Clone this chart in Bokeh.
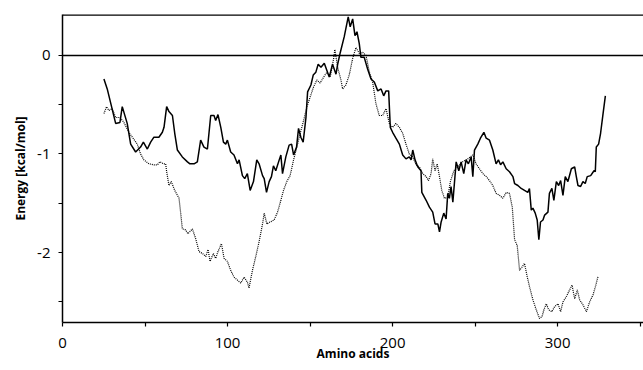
from bokeh.plotting import figure
from bokeh.models import Range1d, FixedTicker, Span
from bokeh.embed import file_html
from bokeh.resources import INLINE

# Solid profile
x_solid = [25.1, 27.1, 32.2, 34.8, 36.2, 39.2, 41.3, 44.3, 47.3, 49.0, 51.4, 53.4, 55.4, 58.4, 60.5, 61.5,
           63.1, 64.5, 66.6, 68.0, 69.6, 72.6, 75.7, 77.2, 79.7, 81.7, 83.7, 85.7, 87.8, 89.8, 91.8, 92.8,
           94.2, 95.9, 97.5, 98.9, 99.9, 101.9, 103.9, 106.0, 107.0, 109.0, 110.4, 112.0, 113.7, 115.7, 117.7,
           119.1, 121.2, 122.2, 123.6, 125.2, 126.6, 127.8, 129.2, 131.3, 132.3, 133.3, 135.3, 137.3, 138.8,
           140.0, 141.8, 143.0, 144.4, 145.8, 147.5, 148.5, 150.5, 151.9, 153.5, 154.9, 156.6, 158.6, 161.6,
           163.6, 165.7, 166.7, 168.3, 170.7, 173.1, 174.3, 175.8, 177.2, 178.4, 179.8, 180.8, 182.8, 184.9,
           186.9, 188.9, 191.0, 193.0, 194.6, 196.0, 197.6, 198.6, 200.0, 202.0, 204.1, 206.1, 208.1, 210.1,
           211.2, 212.2, 213.6, 215.2, 217.2, 217.7, 220.3, 222.3, 224.3, 225.7, 227.4, 228.4, 229.4, 231.0,
           232.4, 233.4, 234.4, 235.4, 236.5, 238.5, 240.1, 241.5, 243.1, 244.5, 245.9, 247.6, 248.6, 249.6,
           251.6, 253.2, 255.3, 256.7, 258.7, 260.7, 262.7, 264.1, 265.4, 266.8, 268.8, 270.8, 272.9, 273.9,
           275.9, 277.9, 279.9, 281.9, 282.9, 284.0, 285.0, 286.4, 287.6, 288.6, 289.6, 291.1, 292.1, 294.1,
           295.0, 296.5, 297.7, 299.2, 300.6, 301.8, 303.2, 304.6, 306.2, 308.3, 310.3, 311.3, 312.3, 313.9,
           315.3, 316.7, 317.9, 320.0, 322.0, 322.8, 323.4, 324.8, 326.0, 327.5, 328.9]
y_solid = [-0.24, -0.34, -0.69, -0.68, -0.52, -0.69, -0.90, -0.98, -0.93, -0.88, -0.95, -0.88, -0.83, -0.83,
           -0.78, -0.73, -0.52, -0.57, -0.61, -0.79, -0.96, -1.03, -1.08, -1.10, -1.10, -1.08, -0.86, -0.93,
           -0.95, -0.61, -0.61, -0.66, -0.60, -0.73, -0.88, -0.90, -0.86, -0.98, -1.01, -1.10, -1.06, -1.22,
           -1.25, -1.20, -1.37, -1.28, -1.06, -1.10, -1.22, -1.25, -1.39, -1.28, -1.23, -1.12, -1.17, -1.06,
           -1.01, -1.20, -1.03, -0.91, -0.90, -1.01, -0.93, -0.74, -0.83, -0.88, -0.63, -0.37, -0.30, -0.20,
           -0.17, -0.09, -0.12, -0.08, -0.22, -0.09, -0.19, -0.09, 0.03, 0.19, 0.39, 0.29, 0.37, 0.20, 0.24,
           0.12, -0.02, -0.02, -0.14, -0.24, -0.27, -0.36, -0.34, -0.41, -0.36, -0.36, -0.73, -0.78, -0.84,
           -0.90, -1.01, -1.05, -1.03, -1.06, -0.96, -1.06, -1.13, -1.17, -1.39, -1.47, -1.54, -1.59, -1.71,
           -1.71, -1.79, -1.69, -1.60, -1.66, -1.40, -1.45, -1.33, -1.49, -1.08, -1.17, -1.08, -1.20, -1.06,
           -1.10, -1.03, -1.23, -0.96, -0.90, -0.84, -0.78, -0.84, -0.86, -0.96, -1.10, -1.06, -1.11, -1.08,
           -1.15, -1.18, -1.23, -1.30, -1.32, -1.35, -1.37, -1.39, -1.35, -1.57, -1.55, -1.60, -1.67, -1.87,
           -1.69, -1.67, -1.62, -1.59, -1.40, -1.35, -1.47, -1.28, -1.32, -1.27, -1.42, -1.23, -1.28, -1.15,
           -1.13, -1.23, -1.32, -1.33, -1.28, -1.30, -1.23, -1.22, -1.17, -1.18, -0.93, -0.90, -0.79, -0.59,
           -0.41]

# Dotted profile
x_dotted = [25.1, 26.7, 28.1, 30.1, 32.2, 34.8, 37.2, 40.2, 42.3, 45.3, 47.3, 49.3, 52.4, 55.4, 57.5, 59.0,
            61.1, 62.5, 63.1, 64.5, 65.9, 68.0, 70.6, 71.6, 72.6, 74.6, 76.0, 78.7, 80.7, 82.7, 84.8, 86.8,
            88.2, 89.4, 91.4, 92.8, 94.2, 96.3, 97.9, 99.9, 101.9, 103.9, 106.0, 108.0, 110.0, 112.0, 113.0,
            115.1, 117.1, 119.1, 121.2, 122.2, 123.8, 125.8, 128.2, 130.3, 132.3, 133.9, 135.9, 137.9, 140.0,
            142.0, 144.0, 146.1, 148.1, 150.1, 152.1, 154.1, 156.1, 158.2, 160.2, 162.2, 164.3, 165.0, 166.7,
            168.7, 169.7, 171.7, 173.7, 175.8, 177.8, 179.8, 181.9, 183.9, 185.9, 187.9, 189.9, 191.9, 194.0,
            196.0, 198.0, 200.0, 202.0, 204.1, 206.1, 208.1, 210.1, 212.2, 214.2, 216.2, 218.3, 220.3, 221.7,
            223.3, 224.3, 225.7, 227.0, 228.4, 229.8, 231.4, 233.4, 235.0, 237.1, 239.5, 242.5, 245.6, 248.6,
            250.6, 252.6, 254.7, 256.7, 258.7, 260.7, 262.7, 264.8, 266.8, 268.8, 270.8, 272.5, 273.9, 275.5,
            276.9, 278.3, 279.9, 281.6, 283.0, 285.0, 287.0, 289.0, 290.5, 291.7, 293.1, 294.5, 296.5, 298.1,
            300.2, 301.8, 303.2, 305.2, 307.2, 308.7, 310.3, 311.9, 313.3, 315.3, 317.4, 319.4, 321.4, 322.8,
            324.5]
y_dotted = [-0.59, -0.52, -0.56, -0.54, -0.63, -0.63, -0.68, -0.78, -0.83, -0.90, -1.00, -1.06, -1.10, -1.11,
            -1.11, -1.08, -1.10, -1.10, -1.18, -1.32, -1.28, -1.37, -1.45, -1.60, -1.76, -1.77, -1.81, -1.76,
            -1.86, -1.99, -2.01, -2.04, -1.97, -2.09, -2.01, -2.06, -1.99, -1.91, -2.06, -2.09, -2.18, -2.25,
            -2.28, -2.31, -2.25, -2.30, -2.36, -2.18, -2.04, -1.89, -1.71, -1.60, -1.71, -1.69, -1.67, -1.59,
            -1.47, -1.37, -1.28, -1.22, -1.06, -0.93, -0.79, -0.66, -0.52, -0.42, -0.32, -0.25, -0.28, -0.22,
            -0.17, -0.22, -0.03, 0.06, -0.12, -0.25, -0.34, -0.30, -0.20, -0.03, 0.08, 0.02, 0.03, 0.00, -0.17,
            -0.27, -0.49, -0.61, -0.61, -0.54, -0.69, -0.73, -0.69, -0.73, -0.79, -0.90, -1.00, -1.03, -1.11,
            -1.13, -1.20, -1.23, -1.27, -1.20, -1.05, -1.17, -1.10, -1.23, -1.37, -1.45, -1.44, -1.28, -1.17,
            -1.13, -1.08, -1.05, -1.01, -1.10, -1.15, -1.20, -1.23, -1.27, -1.32, -1.40, -1.42, -1.45, -1.39,
            -1.40, -1.54, -1.87, -1.93, -2.18, -2.15, -2.11, -2.25, -2.35, -2.48, -2.58, -2.67, -2.65, -2.58,
            -2.52, -2.58, -2.60, -2.55, -2.52, -2.60, -2.50, -2.45, -2.38, -2.33, -2.47, -2.38, -2.48, -2.53,
            -2.60, -2.50, -2.43, -2.35, -2.24]

x_ticks = [0, 100, 200, 300]
x_minor = [50, 150, 250, 350]
y_ticks = [-2, -1, 0]
y_minor = [-2.5, -1.5, -0.5]
y_labels = {-2: "-2", -1: "-1", 0: "0"}

FONT = "Open Sans"

p = figure(width=643, height=370, output_backend="svg", toolbar_location=None,
           x_range=Range1d(0, 352), y_range=Range1d(-2.71, 0.415),
           min_border_left=62, min_border_right=0, min_border_top=14, min_border_bottom=48)
p.outline_line_color = None
p.xgrid.visible = False
p.ygrid.visible = False
p.background_fill_color = "white"

p.line(x_solid, y_solid, line_color="black", line_width=1.5)
p.line(x_dotted, y_dotted, line_color="black", line_width=1.2, line_dash="1 1")

p.add_layout(Span(location=0, dimension="width", line_color="black", line_width=1.5))
p.add_layout(Span(location=0.415, dimension="width", line_color="black", line_width=2.5))

for ax in (p.xaxis[0], p.yaxis[0]):
    ax.axis_line_color = "black"
    ax.axis_line_width = 1.5
    ax.major_tick_in = 0
    ax.major_tick_out = 4
    ax.minor_tick_in = 0
    ax.minor_tick_out = 4
    ax.major_tick_line_color = "black"
    ax.minor_tick_line_color = "black"
    ax.major_tick_line_width = 1.2
    ax.minor_tick_line_width = 1.2
    ax.major_label_text_font = FONT
    ax.major_label_text_font_size = "15px"
    ax.major_label_text_color = "black"
    ax.axis_label_text_font = FONT
    ax.axis_label_text_font_size = "12px"
    ax.axis_label_text_font_style = "bold"
    ax.axis_label_text_color = "black"

p.xaxis.ticker = FixedTicker(ticks=x_ticks, minor_ticks=x_minor)
p.yaxis.ticker = FixedTicker(ticks=y_ticks, minor_ticks=y_minor)
p.yaxis.major_label_overrides = y_labels
p.xaxis.axis_label = "Amino acids"
p.yaxis.axis_label = "Energy [kcal/mol]"
p.xaxis.major_label_standoff = 11
p.yaxis.major_label_standoff = 8
p.xaxis.axis_label_standoff = -6
p.yaxis.axis_label_standoff = 5

open("out.html", "w").write(file_html(p, INLINE))
